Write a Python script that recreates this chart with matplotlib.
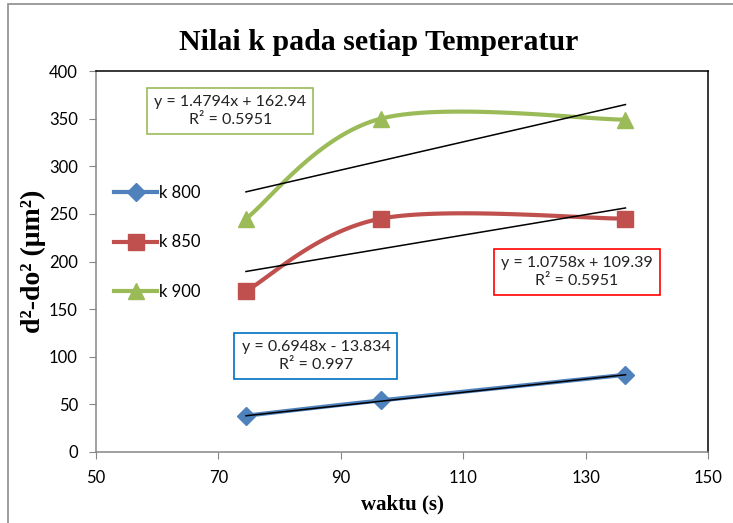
import matplotlib.pyplot as plt
import numpy as np
from matplotlib.patches import Rectangle

# data
waktu = [74.5, 96.5, 136.5]
k800 = [38, 54, 81]
k850 = [169, 245, 245]
k900 = [245, 350, 349]

labels = ['k 800', 'k 850', 'k 900']
colors = ['#4F81BD', '#C0504D', '#9BBB59']
markers = ['D', 's', '^']
msizes = [9, 11, 11]

# trendline equations as printed on the chart
trend_m = [0.6948, 1.0758, 1.4794]
trend_c = [-13.834, 109.39, 162.94]
trend_txt = ['y = 0.6948x - 13.834\nR² = 0.997',
             'y = 1.0758x + 109.39\nR² = 0.5951',
             'y = 1.4794x + 162.94\nR² = 0.5951']
box_edge = ['#0070C0', '#FF0000', '#9BBB59']
box_pos = [(0.431, 0.319), (0.787, 0.480), (0.314, 0.788)]  # figure coords

XMIN, XMAX, YMIN, YMAX = 50, 150, 0, 400


def smooth(xs, ys, n=40):
    # excel-like smoothed line, bezier between points, done in axes units
    px = (np.array(xs) - XMIN) / (XMAX - XMIN)
    py = (np.array(ys) - YMIN) / (YMAX - YMIN)
    P = np.column_stack([px, py])
    P = np.vstack([P[0], P, P[-1]])
    out = []
    for i in range(1, len(P) - 2):
        p0, p1, p2, p3 = P[i - 1], P[i], P[i + 1], P[i + 2]
        c1 = p1 + (p2 - p0) / 6
        c2 = p2 - (p3 - p1) / 6
        t = np.linspace(0, 1, n)[:, None]
        b = (1 - t) ** 3 * p1 + 3 * t * (1 - t) ** 2 * c1 + 3 * t ** 2 * (1 - t) * c2 + t ** 3 * p2
        out.append(b)
    out = np.vstack(out)
    return out[:, 0] * (XMAX - XMIN) + XMIN, out[:, 1] * (YMAX - YMIN) + YMIN


fig = plt.figure(figsize=(7.33, 5.23), dpi=100)
ax = fig.add_axes([0.131, 0.136, 0.835, 0.728])

fig.patches.append(Rectangle((8 / 733, -0.05), 1.2, 1.042, transform=fig.transFigure,
                             fill=False, edgecolor='#8c8c8c', linewidth=1.2))

for ys, lab, col, mk, ms in zip([k800, k850, k900], labels, colors, markers, msizes):
    sx, sy = smooth(waktu, ys)
    ax.plot(sx, sy, color=col, linewidth=3, solid_capstyle='round', zorder=3)
    ax.plot(waktu, ys, linestyle='none', marker=mk, color=col, markersize=ms, zorder=4)
    ax.plot([], [], color=col, marker=mk, markersize=ms, linewidth=3, label=lab)

xt = np.array([waktu[0], waktu[-1]])
for m, c in zip(trend_m, trend_c):
    ax.plot(xt, m * xt + c, color='black', linewidth=1.1, zorder=5)

for txt, ec, (bx, by) in zip(trend_txt, box_edge, box_pos):
    fig.text(bx, by, txt, ha='center', va='center', fontsize=11.5, family='Lato', color='#222222',
             linespacing=1.35,
             bbox=dict(boxstyle='square,pad=0.45', facecolor='white', edgecolor=ec, linewidth=1.2))

ax.set_xlim(XMIN, XMAX)
ax.set_ylim(YMIN, YMAX)
ax.set_xticks(np.arange(50, 151, 20))
ax.set_yticks(np.arange(0, 401, 50))
for lb in ax.get_xticklabels() + ax.get_yticklabels():
    lb.set_family('Lato')
    lb.set_fontsize(12)
ax.tick_params(axis='both', direction='out', length=5, color='#868686', pad=8)
ax.spines['left'].set_color('#868686')
ax.spines['bottom'].set_color('#868686')
ax.spines['top'].set_color('black')
ax.spines['right'].set_color('black')
for s in ax.spines.values():
    s.set_linewidth(1.1)

fig.text(0.516, 0.918, 'Nilai k pada setiap Temperatur', ha='center', va='center',
         fontsize=21.5, fontweight='bold', family='Liberation Serif')
ax.set_xlabel('waktu (s)', fontsize=15, fontweight='bold', family='Liberation Serif', labelpad=6)
ax.set_ylabel('d²-do² (μm²)', fontsize=20, fontweight='bold', family='Liberation Serif',
              labelpad=2)

leg = ax.legend(loc='upper left', bbox_to_anchor=(0.005, 0.74), frameon=False,
                prop={'family': 'Lato', 'size': 12}, labelspacing=2.0, handlelength=2.6,
                handletextpad=0.1)

fig.savefig('out.png', dpi=100)
